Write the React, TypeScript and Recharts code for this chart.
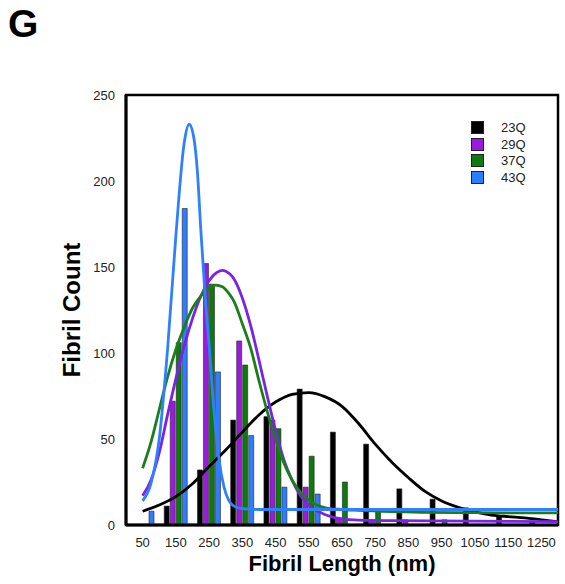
import React from 'react';
import {
  ComposedChart,
  Bar,
  Line,
  XAxis,
  YAxis,
  Legend,
  ReferenceArea,
} from 'recharts';

// histogram bins (nm) and counts per construct
const lengths = [50, 150, 250, 350, 450, 550, 650, 750, 850, 950, 1050, 1150, 1250];
const count23Q = [0, 11, 32, 61, 63, 79, 54, 47, 21, 15, 10, 5, 2];
const count29Q = [0, 72, 152, 107, 61, 22, 4, 3, 3, 0, 0, 0, 0];
const count37Q = [0, 106, 140, 93, 56, 40, 25, 9, 0, 3, 0, 0, 0];
const count43Q = [8, 184, 89, 52, 22, 18, 0, 0, 0, 0, 0, 0, 0];

// fitted curves
const fit23QX = [50, 100, 150, 200, 250, 300, 350, 400, 450, 500, 550, 600, 650, 700, 750, 800, 850, 900, 950, 1000, 1050, 1100, 1150, 1200, 1250, 1300];
const fit23QY = [8, 11.6, 16.5, 24, 34, 43.6, 54, 64, 71.5, 76, 77, 74.5, 69, 59, 47, 36.5, 27.5, 19.5, 14, 10.3, 7.6, 5.8, 4.9, 4.2, 3, 2];

const fit29QX = [50, 75, 100, 125, 150, 175, 200, 225, 250, 275, 290, 300, 325, 350, 375, 400, 425, 450, 475, 500, 525, 550, 600, 650, 700, 800, 1300];
const fit29QY = [17, 26, 42, 64, 85, 104, 120, 133, 142, 147, 148, 147.5, 143, 132, 116, 96, 75, 55, 38, 26, 17, 11.5, 6, 3.5, 2.8, 2.5, 2];

const fit37QX = [50, 75, 100, 125, 150, 175, 200, 225, 250, 270, 290, 310, 325, 350, 375, 400, 425, 450, 475, 500, 525, 550, 600, 650, 700, 800, 1000, 1300];
const fit37QY = [33, 48, 67, 86, 102, 115, 126, 133, 138, 139.5, 138.5, 134.5, 130, 117, 103, 84, 66, 50, 36, 26, 19, 14.5, 10, 9, 8.5, 7.8, 7.2, 7];

const fit43QX = [50, 75, 100, 125, 150, 175, 190, 205, 215, 225, 240, 250, 265, 280, 295, 310, 325, 350, 400, 1300];
const fit43QY = [14, 24, 50, 102, 168, 222, 233, 224, 205, 172, 128, 105, 66, 38, 22, 14, 11, 9.5, 9, 9];

const xTicks = lengths;
const yTicks = [0, 50, 100, 150, 200, 250];

const series = [
  { name: '23Q', key: 'q23', bar: '#000000', line: '#000000' },
  { name: '29Q', key: 'q29', bar: '#9A1BDE', line: '#7B22E6' },
  { name: '37Q', key: 'q37', bar: '#0E7A0E', line: '#1A7F1A' },
  { name: '43Q', key: 'q43', bar: '#2F7DFF', line: '#2F80FF' },
];

const barData = lengths.map((x, i) => ({
  x,
  q23: count23Q[i],
  q29: count29Q[i],
  q37: count37Q[i],
  q43: count43Q[i],
}));

const toPoints = (xs: number[], ys: number[]) => xs.map((x, i) => ({ x, y: ys[i] }));
const fits: Record<string, { x: number; y: number }[]> = {
  q23: toPoints(fit23QX, fit23QY),
  q29: toPoints(fit29QX, fit29QY),
  q37: toPoints(fit37QX, fit37QY),
  q43: toPoints(fit43QX, fit43QY),
};

const font = '"Liberation Sans", Arial, sans-serif';

const LegendBox = () => (
  <div style={{ fontFamily: font, fontSize: 13, color: '#222' }}>
    {series.map((s) => (
      <div key={s.name} style={{ display: 'flex', alignItems: 'center', height: 16.7 }}>
        <span
          style={{
            display: 'inline-block',
            width: 11,
            height: 11,
            background: s.bar,
            border: '0.5px solid #222',
            marginRight: 17,
          }}
        />
        <span>{s.name}</span>
      </div>
    ))}
  </div>
);

export default function App() {
  return (
    <div
      style={{
        position: 'absolute',
        left: 0,
        top: 0,
        width: 565,
        height: 584,
        background: '#fff',
        fontFamily: font,
      }}
    >
      <div
        style={{
          position: 'absolute',
          left: 8,
          top: 2,
          fontSize: 39,
          fontWeight: 'bold',
          color: '#000',
          lineHeight: '44px',
        }}
      >
        G
      </div>
      <ComposedChart
        width={565}
        height={584}
        data={barData}
        margin={{ top: 95, right: 7, bottom: 29, left: 66 }}
        barGap={1}
        style={{ fontFamily: font }}
      >
        <XAxis
          dataKey="x"
          type="number"
          domain={[0, 1300]}
          ticks={xTicks}
          interval={0}
          allowDataOverflow
          height={30}
          tickSize={0}
          tickMargin={13}
          axisLine={{ stroke: '#000', strokeWidth: 3 }}
          tick={{ fill: '#222', fontSize: 13 }}
          label={{
            value: 'Fibril Length (nm)',
            position: 'bottom',
            offset: 0,
            style: { fontSize: 22, fontWeight: 'bold', fill: '#000' },
          }}
        />
        <XAxis
          xAxisId="fit"
          dataKey="x"
          type="number"
          domain={[0, 1300]}
          allowDataOverflow
          hide
        />
        <YAxis
          type="number"
          domain={[0, 250]}
          ticks={yTicks}
          interval={0}
          width={60}
          tickSize={0}
          tickMargin={11}
          axisLine={{ stroke: '#000', strokeWidth: 3 }}
          tick={{ fill: '#222', fontSize: 13 }}
          label={{
            value: 'Fibril Count',
            angle: -90,
            position: 'insideLeft',
            offset: 5,
            style: { fontSize: 24, fontWeight: 'bold', fill: '#000', textAnchor: 'middle' },
          }}
        />
        <ReferenceArea
          x1={0}
          x2={1300}
          y1={0}
          y2={250}
          fill="none"
          stroke="#000"
          strokeWidth={2.5}
        />
        {series.map((s) => (
          <Bar
            key={s.key}
            dataKey={s.key}
            name={s.name}
            fill={s.bar}
            stroke="#222"
            strokeWidth={0.6}
            barSize={5}
            isAnimationActive={false}
            legendType="square"
          />
        ))}
        {series.map((s) => (
          <Line
            key={'fit' + s.key}
            xAxisId="fit"
            data={fits[s.key]}
            dataKey="y"
            type="monotone"
            stroke={s.line}
            strokeWidth={2.8}
            dot={false}
            activeDot={false}
            isAnimationActive={false}
            legendType="none"
          />
        ))}
        <Legend
          layout="vertical"
          align="center"
          verticalAlign="middle"
          content={() => <LegendBox />}
          wrapperStyle={{ position: 'absolute', left: 471, top: 119, width: 'auto' }}
        />
      </ComposedChart>
    </div>
  );
}
